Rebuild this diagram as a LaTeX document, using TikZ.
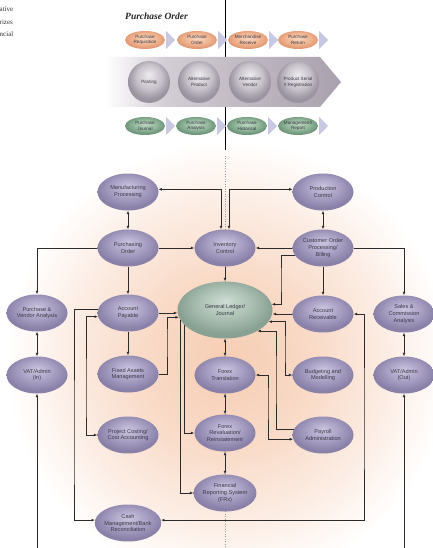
\documentclass[tikz,border=0pt]{standalone}
\usepackage{fontspec}
\setmainfont{Liberation Sans}
\newfontfamily\serifft{Liberation Serif}
\usetikzlibrary{arrows.meta,shapes.geometric,calc}

\definecolor{linec}{HTML}{2B2B2B}
\definecolor{txt}{HTML}{3A3A48}
\definecolor{pu1}{HTML}{CBC5DF}
\definecolor{pu2}{HTML}{A89FC3}
\definecolor{pu3}{HTML}{8A81A9}
\definecolor{gr1}{HTML}{CFDDD4}
\definecolor{gr2}{HTML}{AABFB2}
\definecolor{gr3}{HTML}{88A192}
\definecolor{or1}{HTML}{F9D6C0}
\definecolor{or2}{HTML}{F2B896}
\definecolor{or3}{HTML}{E29A74}
\definecolor{gn1}{HTML}{BCD6C2}
\definecolor{gn2}{HTML}{94B99D}
\definecolor{gn3}{HTML}{6E957A}
\definecolor{bl1}{HTML}{EDEAEF}
\definecolor{bl2}{HTML}{C7C1CA}
\definecolor{bl3}{HTML}{9A93A0}
\definecolor{bn1}{HTML}{D2CCD4}
\definecolor{bn2}{HTML}{A9A1AD}
\definecolor{chevc}{HTML}{C9C8E2}
\definecolor{gw1}{HTML}{F6CDB3}
\definecolor{gw2}{HTML}{F9DBC8}
\definecolor{gw3}{HTML}{FCEDE4}
\definecolor{dotc}{HTML}{9A9A9A}

\pgfdeclareradialshading{purp}{\pgfpoint{0bp}{8bp}}{color(0bp)=(pu1); color(14bp)=(pu2); color(25bp)=(pu3); color(50bp)=(pu3)}
\pgfdeclareradialshading{glsh}{\pgfpoint{0bp}{8bp}}{color(0bp)=(gr1); color(14bp)=(gr2); color(25bp)=(gr3); color(50bp)=(gr3)}
\pgfdeclareradialshading{orsh}{\pgfpoint{0bp}{6bp}}{color(0bp)=(or1); color(14bp)=(or2); color(25bp)=(or3); color(50bp)=(or3)}
\pgfdeclareradialshading{gnsh}{\pgfpoint{0bp}{6bp}}{color(0bp)=(gn1); color(14bp)=(gn2); color(25bp)=(gn3); color(50bp)=(gn3)}
\pgfdeclareradialshading{balsh}{\pgfpoint{0bp}{9bp}}{color(0bp)=(bl1); color(15bp)=(bl2); color(25bp)=(bl3); color(50bp)=(bl3)}
\pgfdeclareradialshading{glowsh}{\pgfpoint{0bp}{0bp}}{color(0bp)=(gw1); color(10bp)=(gw2); color(18bp)=(gw3); color(25bp)=(white); color(50bp)=(white)}
\pgfdeclarehorizontalshading{bansh}{100bp}{color(0bp)=(white); color(25bp)=(white); color(38bp)=(bn1); color(75bp)=(bn2); color(100bp)=(bn2)}

\begin{document}
\begin{tikzpicture}[x=1pt,y=-1pt,
  lc/.style={draw=linec, line width=0.75pt},
  arr/.style={lc, -{Latex[length=3.4pt,width=2.8pt]}},
  dbl/.style={lc, {Latex[length=3.4pt,width=2.8pt]}-{Latex[length=3.4pt,width=2.8pt]}},
  pnode/.style={ellipse, minimum width=61pt, minimum height=37pt, inner sep=0pt, shade, shading=purp, text=txt, align=center, font=\fontsize{5.6}{6.9}\selectfont},
  glnode/.style={pnode, shading=glsh, minimum width=95pt, minimum height=57pt},
  onode/.style={ellipse, minimum width=40pt, minimum height=18pt, inner sep=0pt, shade, shading=orsh, text=txt, align=center, font=\fontsize{4.6}{5.5}\selectfont},
  gnode/.style={onode, shading=gnsh},
  ballnode/.style={circle, minimum size=42pt, inner sep=0pt, shade, shading=balsh, text=txt, align=center, font=\fontsize{4.6}{5.7}\selectfont},
  chev/.style={fill=chevc},
  cuttext/.style={anchor=base west, inner sep=0pt, font=\serifft\fontsize{7}{8}\selectfont, text=black!80}
]
\useasboundingbox (0,0) rectangle (433,548);
\fill[white] (0,0) rectangle (433,548);

% background glow
\shade[shading=glowsh] (228,362) circle (222);

% vertical divider
\coordinate (dtop) at (225,0);
\coordinate (dmid) at (225,150);
\coordinate (dbot) at (225,548);
\draw[black, line width=0.8pt] (dtop) -- (dmid);
\draw[dotc, line width=0.5pt, dotted] (225,156) -- (dbot);

% cut text at top left
\node[cuttext] (t1) at (-0.5,12) {ative};
\node[cuttext] (t2) at (-0.5,24.5) {rizes};
\node[cuttext] (t3) at (-0.5,36.5) {ncial};

% title
\node[anchor=west, inner sep=0pt, font=\serifft\bfseries\itshape\fontsize{9.5}{11}\selectfont, text=black!85] (title) at (125,16) {Purchase Order};

% banner
\shade[shading=bansh] (105,57) -- (320,57) -- (341,82) -- (320,107) -- (105,107) -- cycle;

% row 1
\node[onode] (o1) at (145,40) {Purchase\\Requisition};
\node[onode] (o2) at (197,40) {Purchase\\Order};
\node[onode] (o3) at (248,40) {Merchandise\\Receive};
\node[onode] (o4) at (298,40) {Purchase\\Return};
\foreach \n in {o1,o2,o3,o4}{
  \fill[chev] ($(\n.east)+(1,-9)$) -- ++(9,9) -- ++(-9,9) -- cycle;
}

% balls
\node[ballnode] (b1) at (149,82) {Posting};
\node[ballnode] (b2) at (199,82) {Alternative\\Product};
\node[ballnode] (b3) at (250,82) {Alternative\\Vendor};
\node[ballnode] (b4) at (298,82) {Product Serial\\\# Registration};

% row 3
\node[gnode] (g1) at (145,126) {Purchase\\Journal};
\node[gnode] (g2) at (196,126) {Purchase\\Analysis};
\node[gnode] (g3) at (247,126) {Purchase\\Historical};
\node[gnode] (g4) at (298,126) {Management/\\Report};
\foreach \n in {g1,g2,g3,g4}{
  \fill[chev] ($(\n.east)+(1,-9)$) -- ++(9,9) -- ++(-9,9) -- cycle;
}

% main nodes
\node[pnode] (mp) at (128,192) {Manufacturing\\Processing};
\node[pnode] (pc) at (323,192) {Production\\Control};
\node[pnode] (po) at (128,248) {Purchasing\\Order};
\node[pnode] (ic) at (225,248) {Inventory\\Control};
\node[pnode] (co) at (323,248) {Customer Order\\Processing/\\Billing};
\node[pnode] (pva) at (37,313) {Purchase \&\\Vendor Analysis};
\node[pnode] (ap) at (128,313) {Account\\Payable};
\node[glnode] (gl) at (225,310) {General Ledger/\\Journal};
\node[pnode] (ar) at (323,314) {Account\\Receivable};
\node[pnode] (sca) at (404,314) {Sales \&\\Commission\\Analysis};
\node[pnode] (vin) at (37,375) {VAT/Admin\\(In)};
\node[pnode] (fa) at (128,374) {Fixed Assets\\Management};
\node[pnode] (ft) at (225,375) {Forex\\Translation};
\node[pnode] (bm) at (323,375) {Budgeting and\\Modelling};
\node[pnode] (vout) at (404,375) {VAT/Admin\\(Out)};
\node[pnode] (pcc) at (128,435) {Project Costing/\\Cost Accounting};
\node[pnode] (fr) at (225,433) {Forex\\Revaluation/\\Reinstatement};
\node[pnode] (pa) at (323,435) {Payroll\\Administration};
\node[pnode] (frx) at (225,493) {Financial\\Reporting System\\(FRx)};
\node[pnode] (cm) at (128,523) {Cash\\Management/Bank\\Reconciliation};

\coordinate (vinb) at (37,548);
\coordinate (voutb) at (404,548);

% connectors
\draw[dbl] (mp) -- (po);
\draw[dbl] (pc) -- (co);
\draw[dbl] (mp.5) -| ([xshift=-4pt]ic.north);
\draw[dbl] ([xshift=4pt]ic.north) |- (pc.175);
\draw[arr] (po) -- (ic);
\draw[arr] (co) -- (ic);
\draw[arr] (po.west) -| (pva.north);
\draw[arr] (po) -- (ap);
\draw[arr] (co.east) -| (sca.north);
\draw[arr] (co) -- (ar);
\draw[arr] (co.195) -| (281,280) |- (gl.7);
\draw[arr] (ar.west) -- (ar.west -| gl.east);
\draw[dbl] (gl.345) -| (285,350) |- (bm.west);
\draw[arr] (pa.170) -| (276,380) |- (gl.327);
\draw[dbl] (ft.east) -| (268,400) |- (pa.188);
\draw[arr] (ap.east) -- (ap.east -| gl.west);
\draw[arr] (fa.east) -| (167,340) |- (gl.189);
\draw[arr] (ap) -- (fa);
\draw[arr] (ap.173) -| (74,450) |- (cm.175);
\draw[dbl] (ap.187) -| (86,400) |- (pcc.west);
\draw[arr] (gl.200) |- (fr.west);
\draw[arr] (gl.193) |- (frx.west);
\draw[dbl] (cm.5) -| (364,420) |- (ar.east);
\draw[arr] (ic) -- (gl);
\draw[dbl] (gl) -- (ft);
\draw[dbl] (ft) -- (fr);
\draw[dbl] (fr) -- (frx);
\draw[dbl] (pva) -- (vin);
\draw[dbl] (sca) -- (vout);
\draw[arr] (vinb) -- (vin);
\draw[arr] (voutb) -- (vout);
\end{tikzpicture}
\end{document}
